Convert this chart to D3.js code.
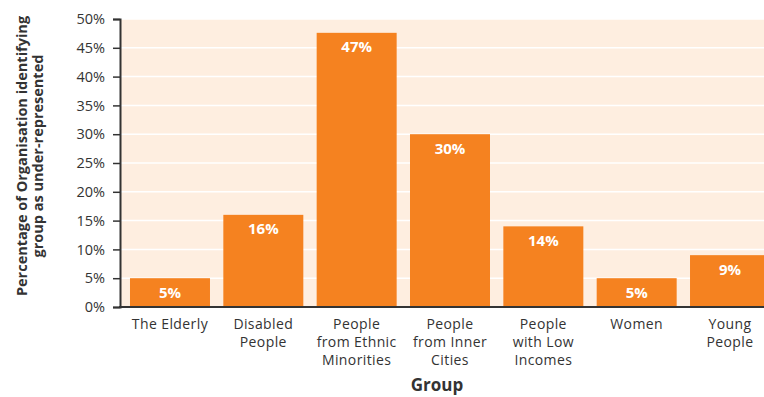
<!DOCTYPE html>
<html><head><meta charset="utf-8">
<script src="https://cdn.jsdelivr.net/npm/d3@7"></script>
<style>body{margin:0;background:#fff}svg{display:block}</style>
</head><body>
<svg id="c" width="764" height="397"></svg>
<script>
const categories = [["The Elderly"],["Disabled","People"],["People","from Ethnic","Minorities"],["People","from Inner","Cities"],["People","with Low","Incomes"],["Women"],["Young","People"]];
const values = [5, 16, 47.6, 30, 14, 5, 9];
const barLabels = ["5%","16%","47%","30%","14%","5%","9%"];
const yTicks = [0,5,10,15,20,25,30,35,40,45,50];
const yTitle = ["Percentage of Organisation identifying","group as under-represented"];
const xTitle = "Group";

(function(){
const font = "'Open Sans', 'Noto Sans', sans-serif";
const svg = d3.select("#c");
const mLeft = 120, mTop = 19, mBottom = 307, mRight = 764;
const x = d3.scaleBand().domain(d3.range(values.length)).range([mLeft, 780]).paddingInner(0.143).paddingOuter(0.107);
const y = d3.scaleLinear().domain([0,50]).range([mBottom, mTop]);

svg.append("rect").attr("x", mLeft).attr("y", mTop).attr("width", mRight-mLeft).attr("height", mBottom-mTop).attr("fill", "#FEEEE0");

svg.append("g").selectAll("line").data(yTicks.slice(1)).join("line")
  .attr("x1", mLeft).attr("x2", mRight).attr("y1", d=>y(d)).attr("y2", d=>y(d))
  .attr("stroke", "#fff").attr("stroke-width", 1.5);

svg.append("g").selectAll("rect").data(values).join("rect")
  .attr("x", (d,i)=>x(i)).attr("width", x.bandwidth())
  .attr("y", d=>y(d)).attr("height", d=>mBottom-y(d)).attr("fill", "#F58220");

svg.append("g").selectAll("text").data(values).join("text")
  .attr("x", (d,i)=>x(i)+x.bandwidth()/2).attr("y", d=>y(d)+19.5)
  .attr("text-anchor","middle").attr("fill","#fff").attr("font-family",font)
  .attr("font-size",15).attr("font-weight","bold").text((d,i)=>barLabels[i]);

const yAxis = svg.append("g").attr("transform",`translate(${mLeft},0)`)
  .call(d3.axisLeft(y).tickValues(yTicks).tickFormat(d=>d+"%").tickSize(7).tickPadding(8));
yAxis.select(".domain").attr("stroke","#333").attr("stroke-width",2);
yAxis.selectAll(".tick line").attr("stroke","#333").attr("stroke-width",1.5);
yAxis.selectAll("text").attr("font-family",font).attr("font-size",14.5).attr("fill","#333");

svg.append("line").attr("x1",mLeft-1).attr("x2",mRight).attr("y1",mBottom).attr("y2",mBottom)
  .attr("stroke","#333").attr("stroke-width",2);

const cl = svg.append("g").selectAll("text").data(categories).join("text")
  .attr("text-anchor","middle").attr("font-family",font).attr("font-size",14).attr("letter-spacing",0.4).attr("fill","#333");
cl.each(function(lines,i){
  d3.select(this).selectAll("tspan").data(lines).join("tspan")
    .attr("x", x(i)+x.bandwidth()/2).attr("y",(l,j)=>329+j*18).text(l=>l);
});

svg.append("text").attr("x", (mLeft+mRight)/2 - 5).attr("y", 391).attr("text-anchor","middle")
  .attr("font-family",font).attr("font-size",17).attr("font-weight","bold").attr("fill","#333").text(xTitle);

const yt = svg.append("text").attr("transform","translate(0,156) rotate(-90)")
  .attr("text-anchor","middle").attr("font-family",font).attr("font-size",14.5).attr("font-weight","bold").attr("fill","#333");
yt.selectAll("tspan").data(yTitle).join("tspan").attr("x",0).attr("y",(d,j)=>27+j*16).text(d=>d);
})();
</script>
</body></html>
